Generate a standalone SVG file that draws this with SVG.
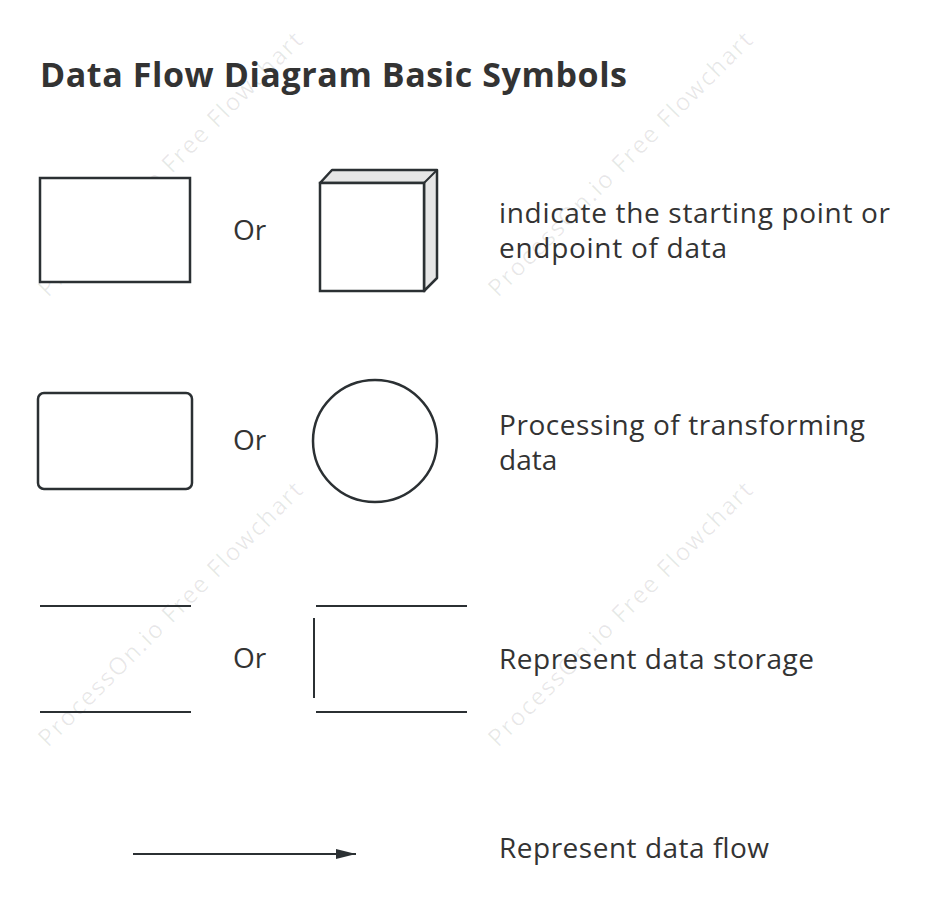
<svg xmlns="http://www.w3.org/2000/svg" width="936" height="915" viewBox="0 0 936 915">
<style>
.s{fill:#fff;stroke:#2b3033;stroke-width:2.5}
.l{stroke:#2b3033;stroke-width:2;fill:none}
.t{font-family:"Open Sans","Noto Sans",sans-serif;font-size:28px;fill:#333}
.w{font-family:"Open Sans",sans-serif;font-size:24px;fill:#000;fill-opacity:0.09}
</style>
<defs><marker id="a" markerWidth="20" markerHeight="12" refX="20" refY="6" orient="auto" markerUnits="userSpaceOnUse"><path d="M0,1 L20,6 L0,11 Z" fill="#2b3033"/></marker></defs>
<rect width="936" height="915" fill="#fff"/>
<g id="watermarks">
<text class="w" transform="translate(48,298) rotate(-45)" textLength="362">ProcessOn.io Free Flowchart</text>
<text class="w" transform="translate(498,298) rotate(-45)" textLength="362">ProcessOn.io Free Flowchart</text>
<text class="w" transform="translate(48,748) rotate(-45)" textLength="362">ProcessOn.io Free Flowchart</text>
<text class="w" transform="translate(498,748) rotate(-45)" textLength="362">ProcessOn.io Free Flowchart</text>
</g>
<text x="40" y="87" font-family="Open Sans,Noto Sans,sans-serif" font-size="34" font-weight="bold" fill="#333" textLength="587">Data Flow Diagram Basic Symbols</text>
<g id="external">
<rect class="s" x="40" y="178" width="150" height="104"/>
<text class="t" x="233" y="240">Or</text>
<path d="M320,183 L332,170 L437,170 L437,278 L424,291 L424,183 Z" fill="#e6e6e6" stroke="#2b3033" stroke-width="2.5" stroke-linejoin="round"/>
<line class="l" x1="424" y1="183" x2="437" y2="170" stroke-width="2.5"/>
<rect class="s" x="320" y="183" width="104" height="108"/>
<text class="t" x="499" y="223" textLength="391">indicate the starting point or</text>
<text class="t" x="499" y="258" textLength="228">endpoint of data</text>
</g>
<g id="process">
<rect class="s" x="38" y="393" width="154" height="96" rx="6"/>
<text class="t" x="233" y="450">Or</text>
<ellipse class="s" cx="375" cy="441" rx="62" ry="61"/>
<text class="t" x="499" y="435" textLength="366">Processing of transforming</text>
<text class="t" x="499" y="470">data</text>
</g>
<g id="store">
<line class="l" x1="40" y1="606" x2="191" y2="606"/>
<line class="l" x1="40" y1="712" x2="191" y2="712"/>
<text class="t" x="233" y="668">Or</text>
<line class="l" x1="316" y1="606" x2="467" y2="606"/>
<line class="l" x1="316" y1="712" x2="467" y2="712"/>
<line class="l" x1="314" y1="618" x2="314" y2="698"/>
<text class="t" x="499" y="669" textLength="315">Represent data storage</text>
</g>
<g id="connectors">
<line class="l" x1="133" y1="854" x2="356" y2="854" marker-end="url(#a)"/>
<text class="t" x="499" y="858" textLength="270">Represent data flow</text>
</g>
</svg>
